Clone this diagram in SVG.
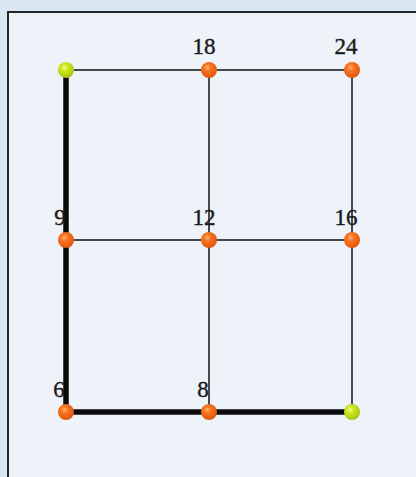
<svg xmlns="http://www.w3.org/2000/svg" width="416" height="477" viewBox="0 0 416 477">
  <style>
    .thin { stroke: #111; stroke-width: 1.5; fill: none; }
    .thick { stroke: #0b0b0b; stroke-width: 5.5; fill: none; stroke-linecap: butt; }
    .lbl { font-family: "Liberation Serif", "DejaVu Serif", serif; font-size: 23px; fill: #1a1a1a; stroke: #1a1a1a; stroke-width: 0.4; text-anchor: middle; }
  </style>
  <defs>
    <radialGradient id="gOrange" cx="0.4" cy="0.35" r="0.65">
      <stop offset="0" stop-color="#ffb07a"/>
      <stop offset="0.35" stop-color="#f7731f"/>
      <stop offset="1" stop-color="#e0560c"/>
    </radialGradient>
    <radialGradient id="gGreen" cx="0.4" cy="0.35" r="0.65">
      <stop offset="0" stop-color="#f0ff90"/>
      <stop offset="0.35" stop-color="#cde51e"/>
      <stop offset="1" stop-color="#a9c40f"/>
    </radialGradient>
  </defs>
  <rect x="0" y="0" width="416" height="477" fill="#dae6f2"/>
  <rect x="8" y="12" width="420" height="480" fill="#edf3f9" stroke="#111" stroke-width="1.8"/>

  <g id="connectors">
    <line class="thin" x1="66" y1="70" x2="352" y2="70"/>
    <line class="thin" x1="209" y1="70" x2="209" y2="240"/>
    <line class="thin" x1="352" y1="70" x2="352" y2="240"/>
    <line class="thin" x1="66" y1="240" x2="352" y2="240"/>
    <line class="thin" x1="209" y1="240" x2="209" y2="412"/>
    <line class="thin" x1="352" y1="240" x2="352" y2="412"/>
    <line class="thick" x1="66" y1="70" x2="66" y2="412"/>
    <line class="thick" x1="66" y1="412" x2="352" y2="412"/>
  </g>

  <g id="n1"><circle cx="66" cy="70" r="8" fill="url(#gGreen)"/></g>
  <g id="n18"><circle cx="209" cy="70" r="8" fill="url(#gOrange)"/><text class="lbl" x="204" y="54">18</text></g>
  <g id="n24"><circle cx="352" cy="70" r="8" fill="url(#gOrange)"/><text class="lbl" x="346" y="54">24</text></g>
  <g id="n9"><circle cx="66" cy="240" r="8" fill="url(#gOrange)"/><text class="lbl" x="60" y="225">9</text></g>
  <g id="n12"><circle cx="209" cy="240" r="8" fill="url(#gOrange)"/><text class="lbl" x="204" y="225">12</text></g>
  <g id="n16"><circle cx="352" cy="240" r="8" fill="url(#gOrange)"/><text class="lbl" x="346" y="225">16</text></g>
  <g id="n6"><circle cx="66" cy="412" r="8" fill="url(#gOrange)"/><text class="lbl" x="59" y="397">6</text></g>
  <g id="n8"><circle cx="209" cy="412" r="8" fill="url(#gOrange)"/><text class="lbl" x="203" y="397">8</text></g>
  <g id="n2"><circle cx="352" cy="412" r="8" fill="url(#gGreen)"/></g>
</svg>
